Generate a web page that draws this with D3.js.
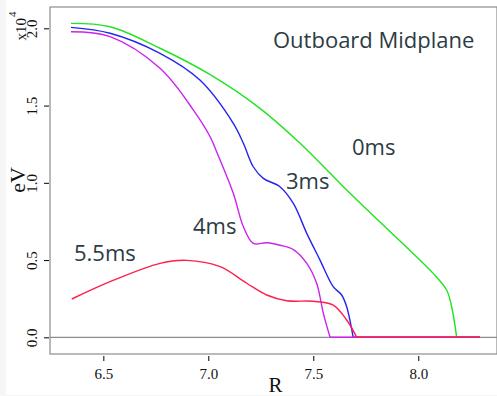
<!DOCTYPE html>
<html>
<head>
<meta charset="utf-8">
<script src="https://cdn.jsdelivr.net/npm/d3@7"></script>
<style>
  body { margin: 0; background: #f6f6f6; }
</style>
</head>
<body>
<div id="chart"></div>
<script>
// Electron temperature profiles (eV) along R
const r0ms = [6.346, 6.532, 6.770, 7.009, 7.246, 7.437, 7.659, 7.754, 7.913, 8.071, 8.135, 8.159, 8.183, 8.294];
const te0ms = [20320, 20100, 18710, 17000, 14820, 12560, 9530, 8290, 6230, 4140, 3060, 1980, 0, 0];

const r3ms = [6.346, 6.532, 6.770, 6.960, 7.119, 7.167, 7.214, 7.262, 7.341, 7.405, 7.469, 7.532, 7.595, 7.635, 7.659, 7.690, 8.294];
const te3ms = [20060, 19680, 18380, 16650, 13850, 12560, 11040, 10290, 9750, 8670, 6730, 5000, 3280, 2740, 1980, 0, 0];

const r4ms = [6.346, 6.532, 6.770, 6.929, 7.008, 7.040, 7.119, 7.167, 7.214, 7.278, 7.341, 7.405, 7.469, 7.516, 7.548, 7.580, 8.294];
const te4ms = [19780, 19460, 17410, 14710, 13000, 12000, 9320, 7160, 6080, 6120, 5960, 5680, 4790, 3500, 1550, 0, 0];

const r55ms = [6.350, 6.532, 6.770, 6.897, 7.056, 7.183, 7.278, 7.373, 7.500, 7.595, 7.659, 7.707, 8.294];
const te55ms = [2480, 3600, 4790, 4980, 4570, 3500, 2740, 2370, 2330, 2090, 1120, 0, 0];

const seriesNames = ['0ms', '3ms', '4ms', '5.5ms'];
const seriesColors = ['#1fe41f', '#2424f0', '#cc22ee', '#ff1f4b'];

const xTicks = [6.5, 7.0, 7.5, 8.0];
const yTicks = [0, 5000, 10000, 15000, 20000];

const W = 497, H = 396;
const box = { left: 50, top: 7, right: 497, bottom: 354 };

const svg = d3.select('#chart').append('svg')
    .attr('width', W)
    .attr('height', H);

// white page area (thin grey strip left and bottom like the source)
svg.append('rect')
    .attr('x', 6).attr('y', 0)
    .attr('width', W - 6).attr('height', 395)
    .attr('fill', '#fff');

const x = d3.scaleLinear()
    .domain([6.246, 8.375])
    .range([box.left, box.right]);

const y = d3.scaleLinear()
    .domain([-1080, 21380])
    .range([box.bottom, box.top]);

// zero line
svg.append('line')
    .attr('x1', box.left).attr('x2', box.right)
    .attr('y1', y(0)).attr('y2', y(0))
    .attr('stroke', '#8c8c8c').attr('stroke-width', 1.2);

// curves: smooth part down to the first zero, then straight along zero
const smooth = d3.line()
    .x(d => x(d[0]))
    .y(d => y(d[1]))
    .curve(d3.curveCatmullRom.alpha(0.5));
const straight = d3.line()
    .x(d => x(d[0]))
    .y(d => y(d[1]));

const series = [
    d3.zip(r0ms, te0ms),
    d3.zip(r3ms, te3ms),
    d3.zip(r4ms, te4ms),
    d3.zip(r55ms, te55ms)
];

series.forEach((pts, i) => {
    const cut = pts.findIndex(d => d[1] === 0);
    const g = svg.append('g')
        .attr('fill', 'none')
        .attr('stroke', seriesColors[i])
        .attr('stroke-width', 1.4);
    g.append('path').attr('d', smooth(pts.slice(0, cut + 1)));
    g.append('path').attr('d', straight(pts.slice(cut)));
});

// box
svg.append('rect')
    .attr('x', box.left).attr('y', box.top)
    .attr('width', box.right - box.left)
    .attr('height', box.bottom - box.top)
    .attr('fill', 'none')
    .attr('stroke', '#8c8c8c').attr('stroke-width', 1.2);

// x axis (ticks detached from box, R style)
const xAxis = svg.append('g')
    .attr('transform', `translate(0, ${box.bottom + 2})`)
    .call(d3.axisBottom(x).tickValues(xTicks).tickSize(5).tickPadding(7).tickFormat(d3.format('.1f')));
xAxis.select('.domain').remove();
xAxis.selectAll('text')
    .attr('font-family', 'Liberation Serif, serif')
    .attr('font-size', 15)
    .attr('fill', '#111');

svg.append('text')
    .attr('x', x(7.32)).attr('y', 392)
    .attr('text-anchor', 'middle')
    .attr('font-family', 'Liberation Serif, serif')
    .attr('font-size', 21)
    .attr('fill', '#111')
    .text('R');

// y axis
const yAxis = svg.append('g')
    .attr('transform', `translate(${box.left - 1}, 0)`)
    .call(d3.axisLeft(y).tickValues(yTicks).tickSize(5).tickFormat(d => (d / 1e4).toFixed(1)));
yAxis.select('.domain').remove();
yAxis.selectAll('text')
    .attr('font-family', 'Liberation Serif, serif')
    .attr('font-size', 15)
    .attr('fill', '#111')
    .attr('text-anchor', 'middle')
    .attr('dy', 0)
    .attr('x', 0)
    .attr('transform', 'translate(-12, 0) rotate(-90)');

// multiplier x10^4
const mult = svg.append('text')
    .attr('transform', 'translate(26, 26) rotate(-90)')
    .attr('text-anchor', 'middle')
    .attr('font-family', 'Liberation Serif, serif')
    .attr('font-size', 15)
    .attr('fill', '#111');
mult.append('tspan').text('x10');
mult.append('tspan').attr('dy', -10).attr('dx', 1).attr('font-size', 11).text('4');

svg.append('text')
    .attr('transform', 'translate(25, 180) rotate(-90)')
    .attr('text-anchor', 'middle')
    .attr('font-family', 'Liberation Serif, serif')
    .attr('font-size', 22)
    .attr('fill', '#111')
    .text('eV');

// annotations
const labelFont = 'Open Sans, sans-serif';
const labelColor = '#2d3b44';
const annos = [
    { text: 'Outboard Midplane', x: 273, y: 48 },
    { text: seriesNames[0], x: 352, y: 155 },
    { text: seriesNames[1], x: 286, y: 189 },
    { text: seriesNames[2], x: 193, y: 234 },
    { text: seriesNames[3], x: 74, y: 261 }
];
svg.selectAll('.anno')
    .data(annos)
    .enter()
    .append('text')
    .attr('class', 'anno')
    .attr('x', d => d.x)
    .attr('y', d => d.y)
    .attr('font-family', labelFont)
    .attr('font-size', 22)
    .attr('fill', labelColor)
    .text(d => d.text);
</script>
</body>
</html>
